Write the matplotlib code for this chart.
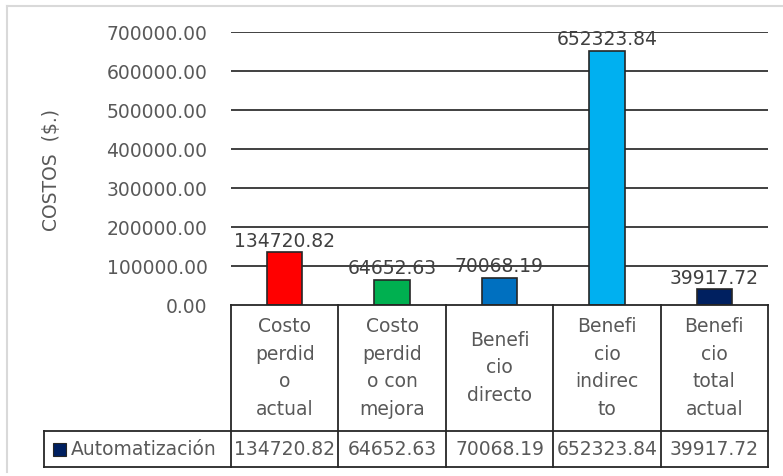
import matplotlib.pyplot as plt
from matplotlib.lines import Line2D
from matplotlib.patches import Rectangle

plt.rcParams['font.family'] = ['DejaVu Sans']

categories = ['Costo\nperdid\no\nactual', 'Costo\nperdid\no con\nmejora',
              'Benefi\ncio\ndirecto', 'Benefi\ncio\nindirec\nto',
              'Benefi\ncio\ntotal\nactual']
values = [134720.82, 64652.63, 70068.19, 652323.84, 39917.72]
bar_colors = ['#FF0000', '#00B050', '#0070C0', '#00B0F0', '#002060']
series_name = 'Automatización'
yticks = [0, 100000, 200000, 300000, 400000, 500000, 600000, 700000]

W, H = 783, 477
txt = '#595959'
fs = 13.5

fig = plt.figure(figsize=(W / 100, H / 100), dpi=100)

def fx(px):
    return px / W

def fy(py):
    return 1 - py / H

# plot area in pixels
x0, x1, ytop, ybot = 231, 768, 33, 306
ax = fig.add_axes([fx(x0), fy(ybot), fx(x1) - fx(x0), fy(ytop) - fy(ybot)])
n = len(values)
pos = list(range(n))
ax.bar(pos, values, width=0.33, color=bar_colors, edgecolor='#262626',
       linewidth=1.2, zorder=3)
ax.set_xlim(-0.5, n - 0.5)
ax.set_ylim(0, 700000)
ax.set_yticks(yticks)
ax.set_yticklabels([f'{v:.2f}' for v in yticks], color=txt, fontsize=fs)
ax.tick_params(axis='y', length=0, pad=17)
ax.set_xticks([])
for s in ax.spines.values():
    s.set_visible(False)
for v in yticks[1:]:
    ax.axhline(v, color='#404040', linewidth=1.4, zorder=1)
for i, v in enumerate(values):
    ax.annotate(f'{v:.2f}', (i, v), xytext=(0, 2), textcoords='offset points',
                ha='center', va='bottom', color='#404040', fontsize=fs, zorder=4)

fig.text(fx(52), fy(170), 'COSTOS  ($.)', rotation=90, ha='center',
         va='center', color=txt, fontsize=13.5)

# data table below the plot
col_w = (x1 - x0) / n
row1_bot = 432
row2_bot = 468
leg_left = 44
lk = dict(color='#262626', linewidth=1.3, transform=fig.transFigure)
fig.add_artist(Line2D([fx(x0), fx(x1)], [fy(ybot), fy(ybot)], **lk))
fig.add_artist(Line2D([fx(leg_left), fx(x1)], [fy(row1_bot), fy(row1_bot)], **lk))
fig.add_artist(Line2D([fx(leg_left), fx(x1)], [fy(row2_bot), fy(row2_bot)], **lk))
fig.add_artist(Line2D([fx(leg_left), fx(leg_left)], [fy(row1_bot), fy(row2_bot)], **lk))
for k in range(n + 1):
    xk = x0 + k * col_w
    fig.add_artist(Line2D([fx(xk), fx(xk)], [fy(ybot), fy(row2_bot)], **lk))
for i, (c, v) in enumerate(zip(categories, values)):
    cx = x0 + (i + 0.5) * col_w
    fig.text(fx(cx), fy((ybot + row1_bot) / 2 - 1), c, ha='center', va='center',
             color=txt, fontsize=fs, linespacing=1.58)
    fig.text(fx(cx), fy((row1_bot + row2_bot) / 2), f'{v:.2f}', ha='center',
             va='center', color=txt, fontsize=fs)
fig.add_artist(Rectangle((fx(53), fy(457)), fx(13), fy(444) - fy(457),
                         facecolor='#002060', edgecolor='#262626', linewidth=0.8,
                         transform=fig.transFigure))
fig.text(fx(71), fy((row1_bot + row2_bot) / 2), series_name, ha='left',
         va='center', color=txt, fontsize=fs)

# light chart frame
fk = dict(color='#D9D9D9', linewidth=1.5, transform=fig.transFigure)
fig.add_artist(Line2D([fx(7), fx(783)], [fy(7), fy(7)], **fk))
fig.add_artist(Line2D([fx(7), fx(7)], [fy(7), fy(473)], **fk))

fig.savefig('out.png', dpi=100)
